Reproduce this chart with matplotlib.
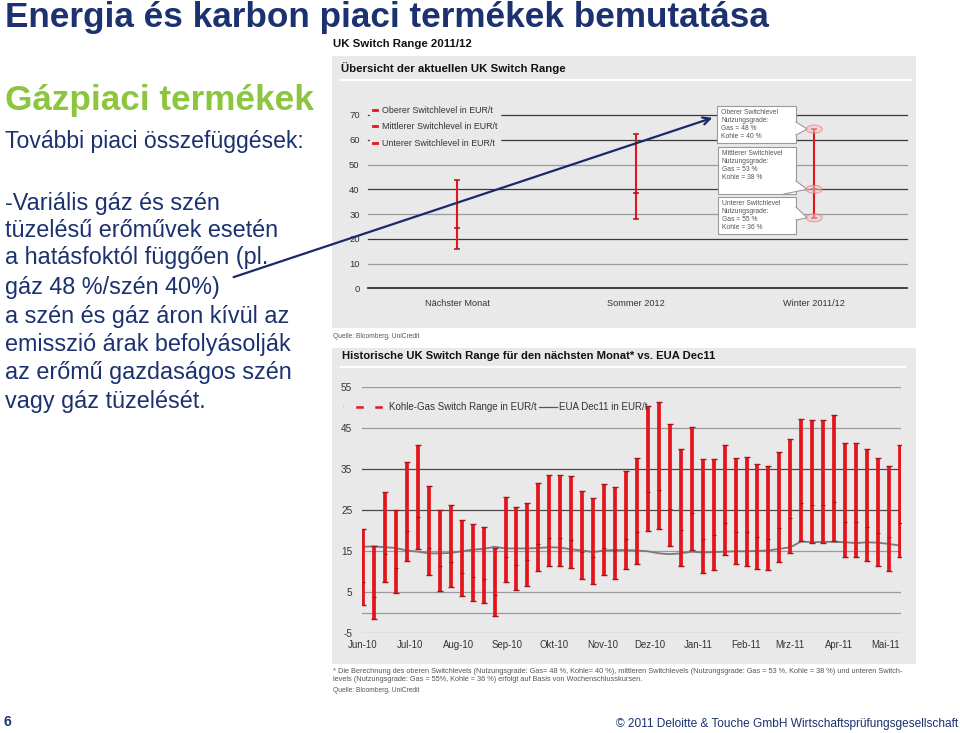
import matplotlib
matplotlib.use("Agg")
import matplotlib.pyplot as plt
from matplotlib.transforms import Affine2D
from matplotlib.patches import Rectangle, Polygon, Ellipse, FancyArrowPatch
from matplotlib.lines import Line2D
import pandas as pd

plt.rcParams['font.family'] = ['Liberation Sans', 'DejaVu Sans']

# ---------------- data ----------------
slide_title = "Energia és karbon piaci termékek bemutatása"
section_title = "Gázpiaci termékek"
intro_line = "További piaci összefüggések:"
body_lines = ["-Variális gáz és szén", "tüzelésű erőművek esetén",
              "a hatásfoktól függően (pl.", "gáz 48 %/szén 40%)",
              "a szén és gáz áron kívül az", "emisszió árak befolyásolják",
              "az erőmű gazdaságos szén", "vagy gáz tüzelését."]

# top chart: UK Switch Range 2011/12
top_categories = ["Nächster Monat", "Sommer 2012", "Winter 2011/12"]
top_upper = [43.7, 62.3, 64.3]
top_mid = [24.5, 38.6, 40.0]
top_lower = [15.7, 27.9, 28.5]
top_yticks = [0, 10, 20, 30, 40, 50, 60, 70]
top_legend = ["Oberer Switchlevel in EUR/t", "Mittlerer Switchlevel in EUR/t",
              "Unterer Switchlevel in EUR/t"]
callout_texts = ["Oberer Switchlevel\nNutzungsgrade:\nGas = 48 %\nKohle = 40 %",
                 "Mittlerer Switchlevel\nNutzungsgrade:\nGas = 53 %\nKohle = 38 %",
                 "Unterer Switchlevel\nNutzungsgrade:\nGas = 55 %\nKohle = 36 %"]

# bottom chart: weekly history
week_start = "2010-06-01"
hist_upper = [20.4, 16.4, 29.4, 25.0, 36.8, 41.0, 30.9, 25.1, 26.4, 22.6,
              21.7, 20.9, 15.8, 28.2, 25.8, 26.9, 31.7, 33.6, 33.6, 33.4,
              29.6, 28.1, 31.3, 30.8, 34.6, 37.8, 50.4, 51.3, 46.0, 39.9,
              45.3, 37.4, 37.5, 40.9, 37.8, 38.1, 36.4, 35.7, 39.2, 42.5,
              47.2, 47.0, 47.0, 48.2, 41.5, 41.5, 39.9, 37.7, 35.9, 40.9]
hist_mid = [7.6, 3.9, 14.3, 10.9, 20.0, 23.4, 15.9, 11.4, 12.5, 9.8,
            8.7, 8.3, 4.3, 13.7, 11.7, 12.9, 16.8, 18.3, 18.3, 17.8,
            14.8, 13.5, 15.9, 15.3, 18.0, 19.8, 29.4, 29.9, 25.2, 20.1,
            24.4, 18.1, 18.9, 22.0, 19.7, 19.6, 18.6, 18.1, 20.6, 23.2,
            26.7, 26.2, 26.2, 27.0, 22.1, 22.1, 21.0, 19.5, 18.6, 21.8]
hist_lower = [1.9, -1.5, 7.6, 4.8, 12.7, 15.5, 9.1, 5.3, 6.4, 4.1,
              3.0, 2.5, -0.8, 7.4, 5.6, 6.6, 10.2, 11.4, 11.3, 10.9,
              8.2, 7.0, 9.1, 8.3, 10.8, 12.0, 20.0, 20.4, 16.2, 11.4,
              15.2, 9.6, 10.5, 14.0, 11.8, 11.4, 10.7, 10.4, 12.5, 14.5,
              17.6, 17.1, 17.1, 17.6, 13.5, 13.5, 12.6, 11.3, 10.3, 13.6]
eua_dec11 = [16.1, 16.2, 16.0, 15.8, 15.2, 14.9, 14.5, 14.5, 14.6, 15.0,
             15.4, 15.6, 16.1, 15.7, 15.7, 15.7, 15.8, 16.0, 15.9, 15.5,
             15.2, 14.8, 15.2, 15.3, 15.3, 15.2, 15.0, 14.5, 14.3, 14.5,
             14.9, 14.7, 14.8, 14.9, 15.0, 15.0, 15.1, 15.2, 15.6, 16.0,
             17.4, 17.2, 17.3, 17.3, 17.2, 17.0, 17.2, 17.1, 16.8, 16.4]
month_labels = ["Jun-10", "Jul-10", "Aug-10", "Sep-10", "Okt-10", "Nov-10",
                "Dez-10", "Jan-11", "Feb-11", "Mrz-11", "Apr-11", "Mai-11"]
bottom_yticks = [-5, 5, 15, 25, 35, 45, 55]

footnote = ("* Die Berechnung des oberen Switchlevels (Nutzungsgrade: Gas= 48 %, Kohle= 40 %), "
            "mittleren Switchlevels (Nutzungsgrade: Gas = 53 %, Kohle = 38 %) und unteren Switch-\n"
            "levels (Nutzungsgrade: Gas = 55%, Kohle = 36 %) erfolgt auf Basis von Wochenschlusskursen.")

# ---------------- style ----------------
W, H = 960, 733
NAVY = "#1B3170"
GREEN = "#8CC63E"
RED = "#E3161D"
DRED = "#A8121A"
PANEL = "#E9E9E9"
GRID_DARK = "#4a4a4a"
GRID_LIGHT = "#9a9a9a"

fig = plt.figure(figsize=(W / 100, H / 100), dpi=100)
px = Affine2D().scale(1 / W, -1 / H).translate(0, 1) + fig.transFigure


def ftext(x, y, s, **kw):
    fig.text(x, y, s, transform=px, **kw)


# ---------------- slide text ----------------
ftext(5, 27.3, slide_title, fontsize=25.3, fontweight='bold', color=NAVY, va='baseline')
ftext(5, 110, section_title, fontsize=25.3, fontweight='bold', color=GREEN, va='baseline')
ftext(5, 148.3, intro_line, fontsize=16.6, color=NAVY, va='baseline')
baselines = [210, 237, 264, 294, 323, 351.5, 379, 408]
for s, b in zip(body_lines, baselines):
    ftext(5, b, s, fontsize=16.8, color=NAVY, va='baseline')

ftext(4, 726, "6", fontsize=10, fontweight='bold', color=NAVY, va='baseline')
ftext(958, 727, "© 2011 Deloitte & Touche GmbH Wirtschaftsprüfungsgesellschaft",
      fontsize=8.6, color=NAVY, va='baseline', ha='right')

# ---------------- panels ----------------
fig.patches.append(Rectangle((332, 56), 584, 272, transform=px, facecolor=PANEL,
                             edgecolor='none', zorder=-5))
fig.patches.append(Rectangle((332, 348), 584, 316, transform=px, facecolor=PANEL,
                             edgecolor='none', zorder=-5))
fig.lines.append(Line2D([340, 910], [79.5, 79.5], transform=px, color='white', lw=1.6, zorder=-4))
fig.lines.append(Line2D([341, 905], [367, 367], transform=px, color='white', lw=1.6, zorder=-4))

ftext(333, 44, "UK Switch Range 2011/12", fontsize=8.2, fontweight='bold', color='#111', va='center')
ftext(341, 68, "Übersicht der aktuellen UK Switch Range", fontsize=8.2, fontweight='bold',
      color='#111', va='center')
ftext(333, 337, "Quelle: Bloomberg, UniCredit", fontsize=4.8, color='#555', va='center')
ftext(342, 356, "Historische UK Switch Range für den nächsten Monat* vs. EUA Dec11",
      fontsize=8.1, fontweight='bold', color='#111', va='center')
ftext(333, 675.5, footnote, fontsize=5.35, color='#555', va='center', linespacing=1.2)
ftext(333, 690, "Quelle: Bloomberg, UniCredit", fontsize=4.8, color='#555', va='center')

# ---------------- top chart ----------------
axt = fig.add_axes([368 / W, 1 - 288.3 / H, 539 / W, 173.3 / H])
axt.set_facecolor('none')
for s in axt.spines.values():
    s.set_visible(False)
axt.set_xlim(-0.5, 2.52)
axt.set_ylim(0, 70)
for v in top_yticks:
    if v == 0:
        axt.axhline(v, color='#333', lw=1.3, zorder=1, clip_on=False)
    elif v in (70, 60, 40, 20):
        axt.axhline(v, color='#3a3a3a', lw=0.9, zorder=1, clip_on=False)
    else:
        axt.axhline(v, color=GRID_LIGHT, lw=0.9, zorder=1, clip_on=False)
xs = list(range(len(top_categories)))
axt.vlines(xs, top_lower, top_upper, color=RED, lw=1.5, zorder=3)
for arr in (top_upper, top_mid, top_lower):
    axt.plot(xs, arr, ls='none', marker='_', ms=4.5, mew=1.1, color=DRED, zorder=4)
axt.set_yticks(top_yticks)
axt.set_yticklabels([str(v) for v in top_yticks], fontsize=6.8, color='#333')
axt.set_xticks(xs)
axt.set_xticklabels(top_categories, fontsize=6.6, color='#333')
axt.tick_params(axis='y', length=0, pad=6)
axt.tick_params(axis='x', length=0, pad=8)
handles = [Line2D([], [], color=RED, lw=2) for _ in top_legend]
leg = axt.legend(handles, top_legend, loc='upper left', bbox_to_anchor=(370 / W, 1 - 103 / H),
                 bbox_transform=fig.transFigure, fontsize=6.4, frameon=True, facecolor=PANEL,
                 edgecolor=PANEL, framealpha=1, fancybox=False, handlelength=0.5,
                 handletextpad=0.5, labelspacing=0.85, borderpad=0.3, borderaxespad=0)
for t in leg.get_texts():
    t.set_color('#333')

# callouts on the Winter bar
fig.canvas.draw()


def data_to_px(ax, x, y):
    dx, dy = ax.transData.transform((x, y))
    return dx, H - dy


tips = [data_to_px(axt, 2, top_upper[2]), data_to_px(axt, 2, top_mid[2]),
        data_to_px(axt, 2, top_lower[2])]
boxes = [(717, 106, 79, 37), (718, 147, 78, 47), (718, 197, 78, 37)]
bases = [((796, 122), (796, 135)), ((784, 194), (796, 181)), ((796, 207), (796, 220))]
for (bx, by, bw, bh), txt, (b1, b2), (tx, ty) in zip(boxes, callout_texts, bases, tips):
    fig.patches.append(Rectangle((bx, by), bw, bh, transform=px, facecolor='white',
                                 edgecolor='#9a9a9a', lw=0.8, zorder=5))
    tip = (tx - 7, ty)
    fig.patches.append(Polygon([b1, tip, b2], closed=True, transform=px, facecolor='white',
                               edgecolor='none', zorder=5.2))
    fig.lines.append(Line2D([b1[0], tip[0], b2[0]], [b1[1], tip[1], b2[1]], transform=px,
                            color='#9a9a9a', lw=0.8, zorder=5.3))
    ftext(bx + 4, by + 3, txt, fontsize=4.9, color='#555', va='top', linespacing=1.2, zorder=6)
    fig.patches.append(Ellipse((tx, ty), 16, 8, transform=px, facecolor='#F4C4C4',
                               edgecolor='#E06A6A', lw=0.8, alpha=0.55, zorder=6))

# ---------------- bottom chart ----------------
dates = pd.date_range(week_start, periods=len(hist_upper), freq='7D')
axb = fig.add_axes([362 / W, 1 - 633.3 / H, 539 / W, 246 / H])
axb.set_facecolor('none')
for s in axb.spines.values():
    s.set_visible(False)
axb.set_xlim(dates[0] - pd.Timedelta(days=0.7), dates[-1] + pd.Timedelta(days=0.7))
axb.set_ylim(-5, 55)
for v in bottom_yticks + [0]:
    c = GRID_DARK if v in (35, 25) else GRID_LIGHT
    axb.axhline(v, color=c, lw=0.9, zorder=1)
axb.plot(dates, eua_dec11, color='#7a7a7a', lw=1.3, zorder=2)
axb.vlines(dates, hist_lower, hist_upper, color=RED, lw=2.7, zorder=3)
for arr in (hist_upper, hist_lower):
    axb.plot(dates, arr, ls='none', marker='_', ms=4.5, mew=1.0, color=DRED, zorder=4)
axb.plot(dates, hist_mid, ls='none', marker='_', ms=3.5, mew=0.8, color=DRED, zorder=4)
months = pd.date_range("2010-06-01", periods=len(month_labels), freq='MS')
axb.set_xticks(months)
axb.set_xticklabels(month_labels, fontsize=6.9, color='#333')
axb.set_yticks(bottom_yticks)
axb.set_yticklabels([str(v) for v in bottom_yticks], fontsize=7.2, color='#333')
axb.tick_params(axis='y', length=0, pad=7)
axb.tick_params(axis='x', length=0, pad=5)

# bottom legend
ftext(343, 407, "·", fontsize=7, color='#999', va='center', ha='center')
for x in (359, 378):
    fig.lines.append(Line2D([x - 2.5, x + 2.5], [407, 407], transform=px, color=RED, lw=1.8))
ftext(389, 407, "Kohle-Gas Switch Range in EUR/t", fontsize=7.0, color='#333', va='center')
fig.lines.append(Line2D([539, 557], [407, 407], transform=px, color='#555', lw=0.9))
ftext(559, 407, "EUA Dec11 in EUR/t", fontsize=7.0, color='#333', va='center')

# ---------------- arrow ----------------
fig.patches.append(FancyArrowPatch((231, 278), (715, 117), transform=px, arrowstyle='->',
                                   mutation_scale=13, lw=1.6, color='#1A2A66', zorder=10))

fig.savefig("out.png", dpi=100)
